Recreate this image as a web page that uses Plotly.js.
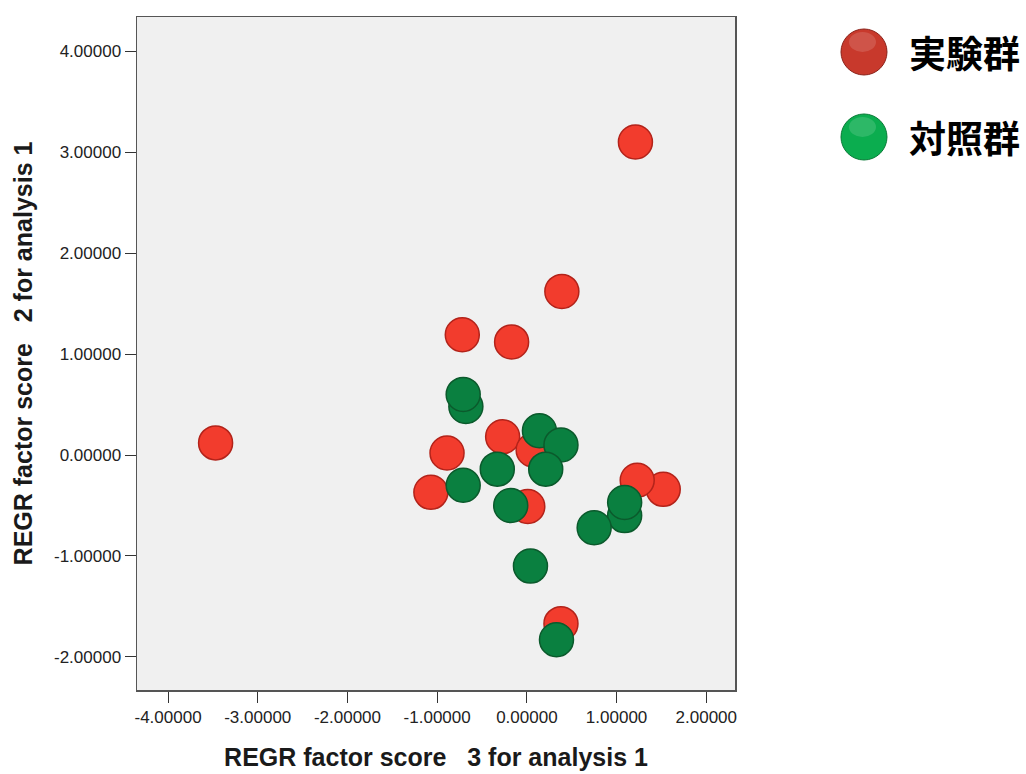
<!DOCTYPE html>
<html>
<head>
<meta charset="utf-8">
<script src="https://cdn.plot.ly/plotly-3.0.1.min.js"></script>
<style>html,body{margin:0;padding:0;background:#fff;}#chart{width:1026px;height:774px;}</style>
</head>
<body>
<div id="chart"></div>
<script>
// Data
const groupNames = ["実験群", "対照群"];
const expX = [1.21, 0.39, -0.72, -0.17, -3.47, -0.89, -0.27, 0.07, -1.07, 0.01, 1.52, 1.23, 0.38];
const expY = [3.10, 1.62, 1.19, 1.12, 0.12, 0.02, 0.18, 0.05, -0.37, -0.51, -0.34, -0.25, -1.67];
const ctlX = [-0.68, -0.71, 0.14, 0.38, 0.21, -0.33, -0.71, -0.18, 1.09, 1.09, 0.75, 0.04, 0.33];
const ctlY = [0.48, 0.60, 0.24, 0.10, -0.14, -0.14, -0.30, -0.50, -0.60, -0.47, -0.72, -1.10, -1.83];
const xTickVals = [-4, -3, -2, -1, 0, 1, 2];
const xTickText = ["-4.00000", "-3.00000", "-2.00000", "-1.00000", "0.00000", "1.00000", "2.00000"];
const yTickVals = [-2, -1, 0, 1, 2, 3, 4];
const yTickText = ["-2.00000", "-1.00000", "0.00000", "1.00000", "2.00000", "3.00000", "4.00000"];

const traces = [
  {x: expX, y: expY, name: groupNames[0], type: "scatter", mode: "markers",
   marker: {size: 34, color: "#f23c2d", line: {color: "#b3231a", width: 1.5}}},
  {x: ctlX, y: ctlY, name: groupNames[1], type: "scatter", mode: "markers",
   marker: {size: 34, color: "#0a8040", line: {color: "#0b5a2c", width: 1.5}}}
];

const axisFont = {family: "Liberation Sans, Arial, sans-serif", size: 17, color: "#222"};
const titleFont = {family: "Liberation Sans, Arial, sans-serif", size: 25, color: "#1a1a1a", weight: "bold"};

const layout = {
  width: 1026, height: 774,
  margin: {l: 137, r: 291, t: 17, b: 84},
  paper_bgcolor: "#ffffff",
  plot_bgcolor: "#f0f0f0",
  showlegend: false,
  xaxis: {
    range: [-4.346, 2.32], tickvals: xTickVals, ticktext: xTickText,
    showgrid: false, zeroline: false, showline: true, mirror: true,
    linecolor: "#555", linewidth: 1.5, ticks: "outside", ticklen: 11, tickcolor: "#333",
    tickfont: axisFont,
    title: {text: "REGR factor score   3 for analysis 1", font: titleFont, standoff: 22}
  },
  yaxis: {
    range: [-2.327, 4.337], tickvals: yTickVals, ticktext: yTickText,
    showgrid: false, zeroline: false, showline: true, mirror: true,
    linecolor: "#555", linewidth: 1.5, ticks: "outside", ticklen: 11, tickcolor: "#333",
    tickfont: axisFont,
    title: {text: "REGR factor score   2 for analysis 1", font: titleFont, standoff: 14}
  },
  shapes: [
    {type: "circle", xref: "paper", yref: "paper", xsizemode: "pixel", ysizemode: "pixel",
     xanchor: 1.2157, yanchor: 0.948, x0: -23, x1: 23, y0: -23, y1: 23,
     fillcolor: "#c8392c", line: {color: "#8a2119", width: 1}},
    {type: "circle", xref: "paper", yref: "paper", xsizemode: "pixel", ysizemode: "pixel",
     xanchor: 1.2157, yanchor: 0.948, x0: -15, x1: 12, y0: 0, y1: 20,
     fillcolor: "rgba(255,255,255,0.14)", line: {width: 0}},
    {type: "circle", xref: "paper", yref: "paper", xsizemode: "pixel", ysizemode: "pixel",
     xanchor: 1.2157, yanchor: 0.8217, x0: -23, x1: 23, y0: -23, y1: 23,
     fillcolor: "#0bad4f", line: {color: "#087a36", width: 1}},
    {type: "circle", xref: "paper", yref: "paper", xsizemode: "pixel", ysizemode: "pixel",
     xanchor: 1.2157, yanchor: 0.8217, x0: -15, x1: 12, y0: 0, y1: 20,
     fillcolor: "rgba(255,255,255,0.14)", line: {width: 0}}
  ],
  annotations: [
    {text: groupNames[0], xref: "paper", yref: "paper", x: 1.2876, y: 0.948, xanchor: "left", yanchor: "middle",
     showarrow: false, font: {family: "Noto Sans CJK JP", size: 37, color: "#000", weight: "bold"}},
    {text: groupNames[1], xref: "paper", yref: "paper", x: 1.2876, y: 0.8217, xanchor: "left", yanchor: "middle",
     showarrow: false, font: {family: "Noto Sans CJK JP", size: 37, color: "#000", weight: "bold"}}
  ]
};

Plotly.newPlot("chart", traces, layout, {displayModeBar: false, staticPlot: true});
</script>
</body>
</html>
